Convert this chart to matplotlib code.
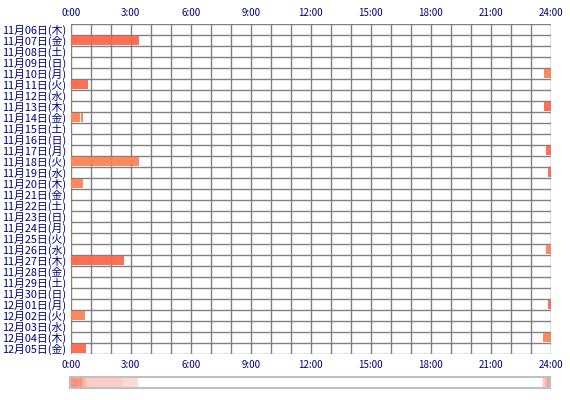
import matplotlib
matplotlib.use("Agg")
import matplotlib.pyplot as plt
import numpy as np
from matplotlib.colors import LinearSegmentedColormap

plt.rcParams['font.family'] = ['Noto Sans CJK JP', 'DejaVu Sans']

# ---- data ----
day_labels = ["11月06日(木)", "11月07日(金)", "11月08日(土)", "11月09日(日)", "11月10日(月)",
              "11月11日(火)", "11月12日(水)", "11月13日(木)", "11月14日(金)", "11月15日(土)",
              "11月16日(日)", "11月17日(月)", "11月18日(火)", "11月19日(水)", "11月20日(木)",
              "11月21日(金)", "11月22日(土)", "11月23日(日)", "11月24日(月)", "11月25日(火)",
              "11月26日(水)", "11月27日(木)", "11月28日(金)", "11月29日(土)", "11月30日(日)",
              "12月01日(月)", "12月02日(火)", "12月03日(水)", "12月04日(木)", "12月05日(金)"]
hour_ticks = [0, 3, 6, 9, 12, 15, 18, 21, 24]
hour_labels = ["0:00", "3:00", "6:00", "9:00", "12:00", "15:00", "18:00", "21:00", "24:00"]

session_day = ["11月07日(金)", "11月10日(月)", "11月11日(火)", "11月13日(木)", "11月14日(金)",
               "11月14日(金)", "11月17日(月)", "11月18日(火)", "11月19日(水)", "11月20日(木)",
               "11月26日(水)", "11月27日(木)", "12月01日(月)", "12月02日(火)", "12月04日(木)",
               "12月05日(金)"]
session_start = [0.0, 23.67, 0.0, 23.67, 0.0, 0.51, 23.75, 0.0, 23.85, 0.0,
                 23.75, 0.0, 23.85, 0.0, 23.62, 0.0]
session_end = [3.42, 24.0, 0.85, 24.0, 0.47, 0.60, 24.0, 3.42, 24.0, 0.60,
               24.0, 2.65, 24.0, 0.72, 24.0, 0.77]
session_kind = [0, 1, 0, 0, 1, 1, 0, 1, 0, 1, 1, 0, 0, 1, 1, 0]

kind_colors = ["#FF6347", "#FF7F50"]
navy = "#000080"

fig = plt.figure(figsize=(5.7, 4.0), dpi=100)
W, H = 570.0, 400.0
x0, x1 = 70.7, 550.7
y0, y1 = 24.0, 354.0
ax = fig.add_axes([x0 / W, 1 - y1 / H, (x1 - x0) / W, (y1 - y0) / H])

n = len(day_labels)
ax.set_xlim(0, 24)
ax.set_ylim(n, 0)

# grid
for h in range(25):
    ax.axvline(h, color="#808080", lw=1.0, zorder=1)
for r in range(n + 1):
    ax.axhline(r, color="#808080", lw=1.0, zorder=1)

# bars
for d, s, e, k in zip(session_day, session_start, session_end, session_kind):
    i = day_labels.index(d)
    ax.barh(i + 0.5, e - s, left=s, height=0.9, color=kind_colors[k],
            alpha=0.92, zorder=2, linewidth=0)

ax.set_yticks(np.arange(n) + 0.5)
ax.set_yticklabels(day_labels, color=navy, fontsize=7.8)
ax.set_xticks(hour_ticks)
ax.set_xticklabels(hour_labels, color=navy, fontsize=7)
ax.tick_params(axis="both", length=0, pad=3)
ax.tick_params(axis="x", top=True, labeltop=True, bottom=False, labelbottom=True, pad=4)
for sp in ax.spines.values():
    sp.set_visible(False)

# bottom density strip
sx = fig.add_axes([70 / W, 1 - 388 / H, 480 / W, 11 / H])
t = np.linspace(0, 24, 24 * 60 * 4, endpoint=False)
counts = np.zeros_like(t)
for s, e in zip(session_start, session_end):
    counts += (t >= s) & (t < e)
level = np.where(counts > 0, 0.1 + 0.0975 * counts, 0.0)
cmap = LinearSegmentedColormap.from_list("strip", ["#FFFFFF", "#FF826E"])
sx.imshow(level[np.newaxis, :], aspect="auto", cmap=cmap, vmin=0, vmax=1,
          extent=[0, 24, 0, 1], interpolation="nearest")
sx.set_xticks([])
sx.set_yticks([])
for sp in sx.spines.values():
    sp.set_color("#C0C0C0")
    sp.set_linewidth(1.5)

fig.savefig("out.png", dpi=100)
